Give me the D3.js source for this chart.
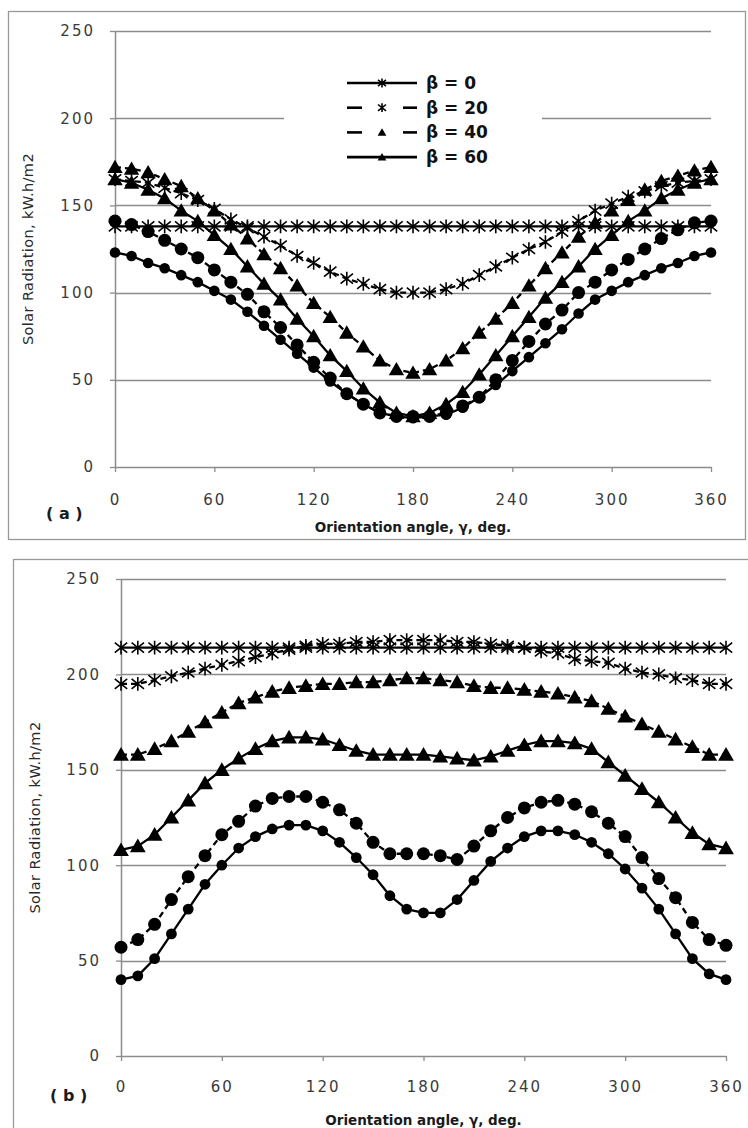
<!DOCTYPE html>
<html>
<head>
<meta charset="utf-8">
<script src="https://cdn.jsdelivr.net/npm/d3@7"></script>
<style>
  body { margin: 0; background: #fff; }
  svg { display: block; }
</style>
</head>
<body>
<svg id="chart" width="748" height="1128"></svg>
<script>
// Orientation angles (deg) at which radiation was computed
const angles = [0,10,20,30,40,50,60,70,80,90,100,110,120,130,140,150,160,170,180,
                190,200,210,220,230,240,250,260,270,280,290,300,310,320,330,340,350,360];
const yTicks = [0, 50, 100, 150, 200, 250];
const xTicks = [0, 60, 120, 180, 240, 300, 360];
const legendLabels = ["β = 0", "β = 20", "β = 40", "β = 60"];

// Panel (a) series, kW.h/m2
const aStarFlat  = [138,138,138,138,138,138,138,138,138,138,138,138,138,138,138,138,138,138,138,
                    138,138,138,138,138,138,138,138,138,138,138,138,138,138,138,138,138,138];
const aStarCurve = [165,164,163,160,157,153,148,142,137,132,127,121,117,112,108,105,102,100,100,
                    100,102,105,110,115,120,125,129,135,141,147,151,155,158,161,163,164,165];
const aTriUpper  = [172,171,169,165,161,154,147,139,131,122,114,104,94,86,77,69,61,56,54,
                    56,61,68,77,85,94,104,114,123,132,140,147,153,159,164,167,170,172];
const aTriLower  = [165,163,159,154,147,141,133,125,115,105,96,85,75,64,55,45,37,31,29,
                    31,36,43,53,64,75,86,97,106,115,125,133,141,147,154,159,163,165];
const aDotUpper  = [141,139,135,130,125,120,113,106,99,89,80,70,60,51,42,36,31,29,29,
                    29,31,35,40,50,61,72,82,90,100,106,113,119,125,131,136,140,141];
const aDotLower  = [123,121,117,114,110,106,101,96,89,81,73,65,57,49,42,36,31,29,28,
                    29,30,34,40,47,55,63,71,79,88,96,101,106,110,114,117,121,123];

// Panel (b) series, kW.h/m2
const bStarFlat  = [214,214,214,214,214,214,214,214,214,214,214,214,214,214,214,214,214,214,214,
                    214,214,214,214,214,214,214,214,214,214,214,214,214,214,214,214,214,214];
const bStarCurve = [195,195,197,199,201,203,205,207,209,211,213,215,216,216,217,217,218,218,218,
                    218,217,217,216,215,214,212,211,208,207,206,203,201,200,198,197,195,195];
const bTriUpper  = [158,158,161,165,170,175,180,185,188,191,193,194,195,195,196,196,197,198,198,
                    197,196,194,193,193,192,191,190,188,186,182,178,174,170,166,162,158,158];
const bTriLower  = [108,110,116,125,134,143,150,156,161,165,167,167,166,163,160,158,158,158,158,
                    157,156,155,157,160,163,165,165,164,161,154,147,140,133,125,117,111,109];
const bDotUpper  = [57,61,69,82,94,105,116,123,131,135,136,136,133,129,122,112,106,106,106,
                    105,103,110,118,125,130,133,134,132,128,122,115,104,93,83,70,61,58];
const bDotLower  = [40,42,51,64,77,90,100,109,115,119,121,121,118,112,104,95,84,77,75,
                    75,82,92,102,109,115,118,118,116,112,106,98,88,77,64,51,43,40];

const svg = d3.select("#chart");
const GRID = "#8c8c8c";
const INK = "#000";

// marker shapes
const starPath = s => `M${-s},${-s*0.8}L${s},${s*0.8}M${-s},${s*0.8}L${s},${-s*0.8}M0,${-s*1.1}L0,${s*1.1}`;
const triPath = s => `M0,${-s*1.05}L${s*1.1},${s*0.85}L${-s*1.1},${s*0.85}Z`;

function drawMarkers(g, pts, kind, size) {
  const sel = g.selectAll(null).data(pts).join("path")
    .attr("transform", d => `translate(${d[0]},${d[1]})`);
  if (kind === "star") {
    sel.attr("d", starPath(size)).attr("fill", "none").attr("stroke", INK).attr("stroke-width", 1.6);
  } else if (kind === "tri") {
    sel.attr("d", triPath(size)).attr("fill", INK);
  } else {
    sel.attr("d", d3.symbol(d3.symbolCircle, Math.PI * size * size)()).attr("fill", INK);
  }
}

function drawPanel(p) {
  const x = d3.scaleLinear().domain([0, 360]).range([p.left, p.right]);
  const y = d3.scaleLinear().domain([0, 250]).range([p.bottom, p.top]);
  const g = svg.append("g");

  // outer frame
  g.append("rect")
    .attr("x", p.frame[0] + 0.5).attr("y", p.frame[1] + 0.5)
    .attr("width", p.frame[2]).attr("height", p.frame[3])
    .attr("fill", "none").attr("stroke", "#999").attr("stroke-width", 1.3);

  // horizontal gridlines
  g.append("g").selectAll("line").data(yTicks.filter(v => v > 0)).join("line")
    .attr("x1", x(0)).attr("x2", x(360))
    .attr("y1", d => Math.round(y(d)) + 0.5).attr("y2", d => Math.round(y(d)) + 0.5)
    .attr("stroke", GRID).attr("stroke-width", 1.3);

  // y axis
  const ya = g.append("g")
    .attr("transform", `translate(${x(0)},0)`)
    .call(d3.axisLeft(y).tickValues(yTicks).tickSize(5).tickSizeOuter(0).tickPadding(15));
  // x axis
  const xa = g.append("g")
    .attr("transform", `translate(0,${y(0)})`)
    .call(d3.axisBottom(x).tickValues(xTicks).tickSize(5).tickSizeOuter(0).tickPadding(p.xPad));
  [ya, xa].forEach(a => {
    a.select(".domain").attr("stroke", GRID).attr("stroke-width", 1.5);
    a.selectAll(".tick line").attr("stroke", GRID).attr("stroke-width", 1.3);
    a.selectAll(".tick text")
      .attr("fill", "#3a3a3a")
      .style("font-family", "'DejaVu Sans', sans-serif")
      .style("font-size", "15px")
      .style("letter-spacing", "2px");
  });

  // axis titles
  g.append("text")
    .attr("transform", `translate(${p.yTitleX},${(y(0) + y(250)) / 2}) rotate(-90)`)
    .attr("text-anchor", "middle")
    .attr("fill", "#2a2a2a")
    .style("font-family", "'DejaVu Sans', sans-serif")
    .style("font-size", "14.5px")
    .style("letter-spacing", "0.4px")
    .text("Solar Radiation, kW.h/m2");
  g.append("text")
    .attr("x", (x(0) + x(360)) / 2).attr("y", p.xTitleY)
    .attr("text-anchor", "middle")
    .attr("fill", "#1a1a1a")
    .style("font-family", "'DejaVu Sans', sans-serif")
    .style("font-weight", "bold")
    .style("font-size", "13.5px")
    .text("Orientation angle, γ, deg.");
  g.append("text")
    .attr("x", p.tag[0]).attr("y", p.tag[1])
    .attr("fill", "#1a1a1a")
    .style("font-family", "'DejaVu Sans', sans-serif")
    .style("font-weight", "bold")
    .style("font-size", "16px")
    .text(p.tagText);

  // series: line + markers
  p.series.forEach(s => {
    const pts = angles.map((a, i) => [x(a), y(s.values[i])]);
    g.append("path")
      .attr("d", d3.line()(pts))
      .attr("fill", "none").attr("stroke", INK).attr("stroke-width", 2.3)
      .attr("stroke-dasharray", s.dash ? "6,4" : null);
    drawMarkers(g.append("g"), pts, s.marker, s.size);
  });

  return { x, y, g };
}

// Panel (a)
const pa = drawPanel({
  left: 115, right: 711, top: 31, bottom: 467,
  frame: [8, 11, 737, 528],
  xPad: 22, yTitleX: 33, xTitleY: 532,
  tag: [46, 519], tagText: "( a )",
  series: [
    { values: aStarFlat,  marker: "star", size: 6.2, dash: false },
    { values: aStarCurve, marker: "star", size: 6.2, dash: true },
    { values: aTriUpper,  marker: "tri",  size: 7,   dash: true },
    { values: aTriLower,  marker: "tri",  size: 7,   dash: false },
    { values: aDotUpper,  marker: "dot",  size: 6.5, dash: true },
    { values: aDotLower,  marker: "dot",  size: 5.3, dash: false }
  ]
});

// legend of panel (a)
const leg = pa.g.append("g");
leg.append("rect").attr("x", 284).attr("y", 62).attr("width", 258).attr("height", 116).attr("fill", "#fff");
const legendStyle = [
  { marker: "star", dash: false },
  { marker: "star", dash: true },
  { marker: "tri",  dash: true },
  { marker: "tri",  dash: false }
];
legendLabels.forEach((lab, i) => {
  const cy = 83 + i * 24.7;
  if (legendStyle[i].dash) {
    leg.append("line").attr("x1", 347).attr("x2", 362).attr("y1", cy).attr("y2", cy)
      .attr("stroke", INK).attr("stroke-width", 2.6);
    leg.append("line").attr("x1", 403).attr("x2", 417).attr("y1", cy).attr("y2", cy)
      .attr("stroke", INK).attr("stroke-width", 2.6);
  } else {
    leg.append("line").attr("x1", 347).attr("x2", 417).attr("y1", cy).attr("y2", cy)
      .attr("stroke", INK).attr("stroke-width", 2.6);
  }
  drawMarkers(leg.append("g"), [[382, cy]], legendStyle[i].marker, 4);
  leg.append("text")
    .attr("x", 426).attr("y", cy + 6)
    .attr("fill", "#111")
    .style("font-family", "'DejaVu Sans', sans-serif")
    .style("font-weight", "bold")
    .style("font-size", "17px")
    .text(lab);
});

// Panel (b)
drawPanel({
  left: 121, right: 726, top: 579, bottom: 1056,
  frame: [13, 559, 740, 600],
  xPad: 20, yTitleX: 40, xTitleY: 1125,
  tag: [50, 1101], tagText: "( b )",
  series: [
    { values: bStarFlat,  marker: "star", size: 6.2, dash: false },
    { values: bStarCurve, marker: "star", size: 6.2, dash: true },
    { values: bTriUpper,  marker: "tri",  size: 7.2, dash: true },
    { values: bTriLower,  marker: "tri",  size: 7.2, dash: false },
    { values: bDotUpper,  marker: "dot",  size: 6.5, dash: true },
    { values: bDotLower,  marker: "dot",  size: 5.4, dash: false }
  ]
});
</script>
</body>
</html>
